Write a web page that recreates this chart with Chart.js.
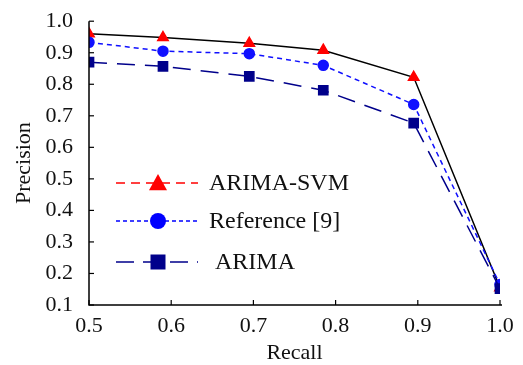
<!DOCTYPE html>
<html>
<head>
<meta charset="utf-8">
<script src="https://cdn.jsdelivr.net/npm/chart.js@4/dist/chart.umd.min.js"></script>
<style>
  html, body { margin: 0; padding: 0; background: #fff; }
  #wrap { width: 523px; height: 365px; }
</style>
</head>
<body>
<div id="wrap"><canvas id="c" width="523" height="365"></canvas></div>
<script>
// ==== data ====
const recall    = [0.5, 0.59, 0.695, 0.785, 0.895, 1.0];
const arimaSvm  = [0.96, 0.948, 0.93, 0.908, 0.822, 0.155];
const reference = [0.933, 0.905, 0.897, 0.86, 0.736, 0.165];
const arima     = [0.87, 0.857, 0.825, 0.781, 0.677, 0.152];
const xTicks = [0.5, 0.6, 0.7, 0.8, 0.9, 1.0];
const yTicks = [0.1, 0.2, 0.3, 0.4, 0.5, 0.6, 0.7, 0.8, 0.9, 1.0];

const FONT = "'Liberation Serif', 'DejaVu Serif', serif";
const pts = (ys) => recall.map((x, i) => ({ x, y: ys[i] }));

// legend samples (drawn inside the plot)
const legendItems = [
  { label: "ARIMA-SVM",     color: "#ff0000", dash: [9, 6],  shape: "tri" },
  { label: "Reference [9]", color: "#0000ff", dash: [4, 3],  shape: "circle" },
  { label: " ARIMA",        color: "#00008b", dash: [18, 9], shape: "rect" }
];

function marker(ctx, shape, x, y, s, color) {
  ctx.save();
  ctx.fillStyle = color;
  ctx.beginPath();
  if (shape === "tri") {
    ctx.moveTo(x, y - s);
    ctx.lineTo(x + s, y + s * 0.8);
    ctx.lineTo(x - s, y + s * 0.8);
    ctx.closePath();
  } else if (shape === "circle") {
    ctx.arc(x, y, s, 0, Math.PI * 2);
  } else {
    ctx.rect(x - s, y - s, s * 2, s * 2);
  }
  ctx.fill();
  ctx.restore();
}

const frame = {
  id: "frame",
  afterDatasetsDraw(chart) {
    const { ctx, chartArea: a, scales: { x, y } } = chart;
    ctx.save();
    ctx.strokeStyle = "#000";
    ctx.lineWidth = 1.5;
    ctx.beginPath();
    ctx.moveTo(a.left, a.top);
    ctx.lineTo(a.left, a.bottom);
    ctx.lineTo(a.right + 2, a.bottom);
    ctx.stroke();
    // inward ticks
    ctx.lineWidth = 1.2;
    yTicks.forEach(v => {
      const py = y.getPixelForValue(v);
      ctx.beginPath(); ctx.moveTo(a.left, py); ctx.lineTo(a.left + 5, py); ctx.stroke();
    });
    xTicks.forEach(v => {
      const px = x.getPixelForValue(v);
      ctx.beginPath(); ctx.moveTo(px, a.bottom); ctx.lineTo(px, a.bottom - 5); ctx.stroke();
    });

    // legend
    const rows = [183, 221, 262];
    ctx.font = "24px " + FONT;
    ctx.textBaseline = "middle";
    legendItems.forEach((it, i) => {
      const ly = rows[i];
      ctx.strokeStyle = it.color;
      ctx.lineWidth = 1.5;
      ctx.setLineDash(it.dash);
      ctx.beginPath(); ctx.moveTo(116, ly); ctx.lineTo(198, ly); ctx.stroke();
      ctx.setLineDash([]);
      marker(ctx, it.shape, 158, ly, it.shape === "tri" ? 9 : it.shape === "circle" ? 8 : 7.5, it.color);
      ctx.fillStyle = "#111";
      ctx.fillText(it.label, 209, ly + 1);
    });
    ctx.restore();
  }
};

new Chart(document.getElementById("c"), {
  type: "scatter",
  data: {
    datasets: [
      {
        label: "ARIMA",
        data: pts(arima),
        showLine: true,
        borderColor: "#00008b",
        borderWidth: 1.5,
        borderDash: [18, 10],
        pointStyle: "rect",
        pointRadius: 6.5,
        pointBackgroundColor: "#00008b",
        pointBorderColor: "#00008b"
      },
      {
        label: "Reference [9]",
        data: pts(reference),
        showLine: true,
        borderColor: "#1010ff",
        borderWidth: 1.5,
        borderDash: [5, 4],
        pointStyle: "circle",
        pointRadius: 5,
        pointBackgroundColor: "#1010ff",
        pointBorderColor: "#1010ff"
      },
      {
        label: "ARIMA-SVM",
        data: pts(arimaSvm),
        showLine: true,
        borderColor: "#000",
        borderWidth: 1.5,
        pointStyle: "triangle",
        pointRadius: 6,
        pointBackgroundColor: "#ff0000",
        pointBorderColor: "#ff0000"
      }
    ]
  },
  options: {
    responsive: false,
    animation: false,
    layout: { padding: { left: 0, right: 23, top: 20, bottom: 0 } },
    plugins: { legend: { display: false }, tooltip: { enabled: false } },
    scales: {
      x: {
        type: "linear",
        min: 0.5, max: 1.0,
        afterBuildTicks: s => { s.ticks = xTicks.map(v => ({ value: v })); },
        afterFit: s => { s.height = 60; },
        grid: { display: false },
        border: { display: false },
        ticks: {
          color: "#111", padding: 0,
          font: { family: FONT, size: 22 },
          callback: v => v.toFixed(1)
        },
        title: { display: true, text: "Recall", color: "#111", padding: { top: 0, bottom: -1 },
                 font: { family: FONT, size: 22 } }
      },
      y: {
        type: "linear",
        min: 0.1, max: 1.0,
        afterBuildTicks: s => { s.ticks = yTicks.map(v => ({ value: v })); },
        afterFit: s => { s.width = 89; },
        grid: { display: false },
        border: { display: false },
        ticks: {
          color: "#111", padding: 8,
          font: { family: FONT, size: 22 },
          callback: v => v.toFixed(1)
        },
        title: { display: true, text: "Precision", color: "#111", padding: { top: 11, bottom: 0 },
                 font: { family: FONT, size: 22 } }
      }
    }
  },
  plugins: [frame]
});
</script>
</body>
</html>
